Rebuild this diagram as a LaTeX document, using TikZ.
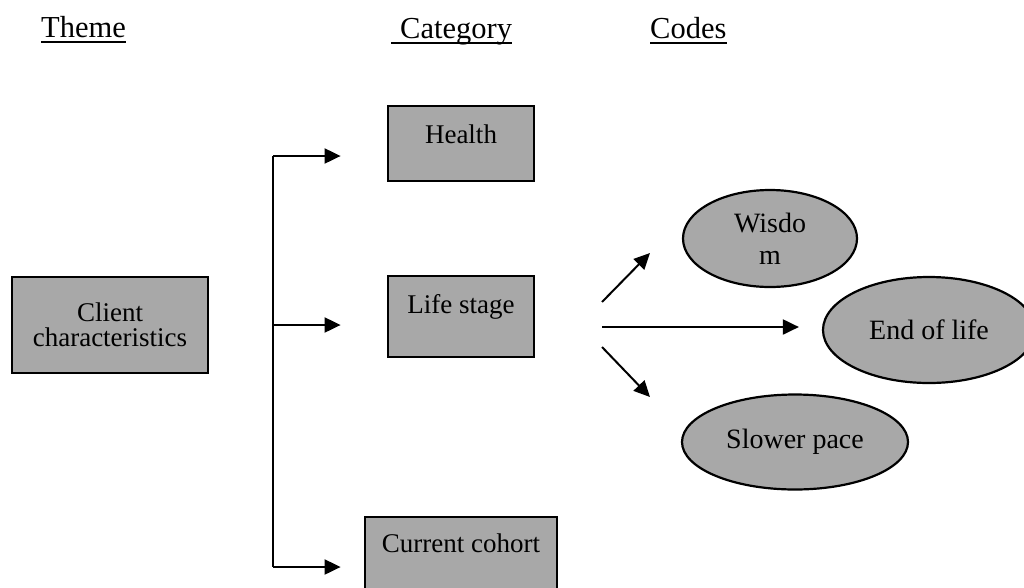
\documentclass[tikz,border=0pt]{standalone}
\usepackage{fontspec}
\setmainfont{Liberation Serif}
\usetikzlibrary{shapes.geometric}
\usetikzlibrary{arrows.meta}
\definecolor{scangray}{gray}{0.66}
\tikzset{
  head/.style={inner sep=0pt, anchor=base west, font=\fontsize{30.5}{34}\selectfont},
  box/.style={draw, fill=scangray, line width=2.8pt, inner sep=0pt, align=center, font=\fontsize{27}{25}\selectfont},
  catbox/.style={box, text height=18pt, text depth=18pt},
  codeell/.style={ellipse, draw, fill=scangray, line width=2.2pt, inner sep=0pt, align=center, font=\fontsize{28}{32}\selectfont},
  link/.style={line width=2pt},
  arr/.style={line width=2pt, -{Triangle[length=16pt,width=15pt]}}
}
\begin{document}
\begin{tikzpicture}[x=1pt, y=-1pt]
   \useasboundingbox (0,0) rectangle (1024,587);
   % headings
   \node[head] (theme) at (41,37) {Theme};
   \node[head] (category) at (400,38) {Category};
   \node[head] (codes) at (650,38) {Codes};
   \foreach \h/\pad in {theme/0, category/9, codes/0}
      \draw[line width=1.3pt] ([xshift=-\pad pt, yshift=-5pt]\h.base west) -- ([yshift=-5pt]\h.base east);
   % theme and categories
   \node[box, minimum width=196pt, minimum height=96pt] (client) at (110,325) {Client\\characteristics};
   \node[catbox, minimum width=146pt, minimum height=75pt] (health) at (461,143.5) {Health};
   \node[catbox, text depth=25pt, minimum width=146pt, minimum height=81pt] (life) at (461,316.5) {Life stage};
   \node[catbox, text depth=28pt, minimum width=192pt, minimum height=80pt] (cohort) at (461,557) {Current cohort};
   % codes
   \node[codeell, minimum width=174pt, minimum height=97pt] (wisdom) at (770,238.5) {Wisdo\\m};
   \node[codeell, minimum width=212pt, minimum height=106pt] (endlife) at (929,330) {End of life};
   \node[codeell, minimum width=226pt, minimum height=95pt] (slower) at (795,442) {Slower pace};
   % bracket to the categories
   \coordinate (jtop) at (273,156);
   \coordinate (jmid) at (273,325);
   \coordinate (jbot) at (273,567);
   \draw[link] (jtop) -- (jbot);
   \draw[arr, shorten >=46pt] (jtop) -- (jtop -| health.west);
   \draw[arr, shorten >=46pt] (jmid) -- (jmid -| life.west);
   \draw[arr, shorten >=23pt] (jbot) -- (jbot -| cohort.west);
   % fan to the codes
   \coordinate (fan1) at (602,302);
   \coordinate (fan2) at (602,327);
   \coordinate (fan3) at (602,347);
   \coordinate (tip1) at (650,253);
   \coordinate (tip3) at (650,397);
   \draw[arr] (fan1) -- (tip1);
   \draw[arr, shorten >=23pt] (fan2) -- (fan2 -| endlife.west);
   \draw[arr] (fan3) -- (tip3);
\end{tikzpicture}
\end{document}
